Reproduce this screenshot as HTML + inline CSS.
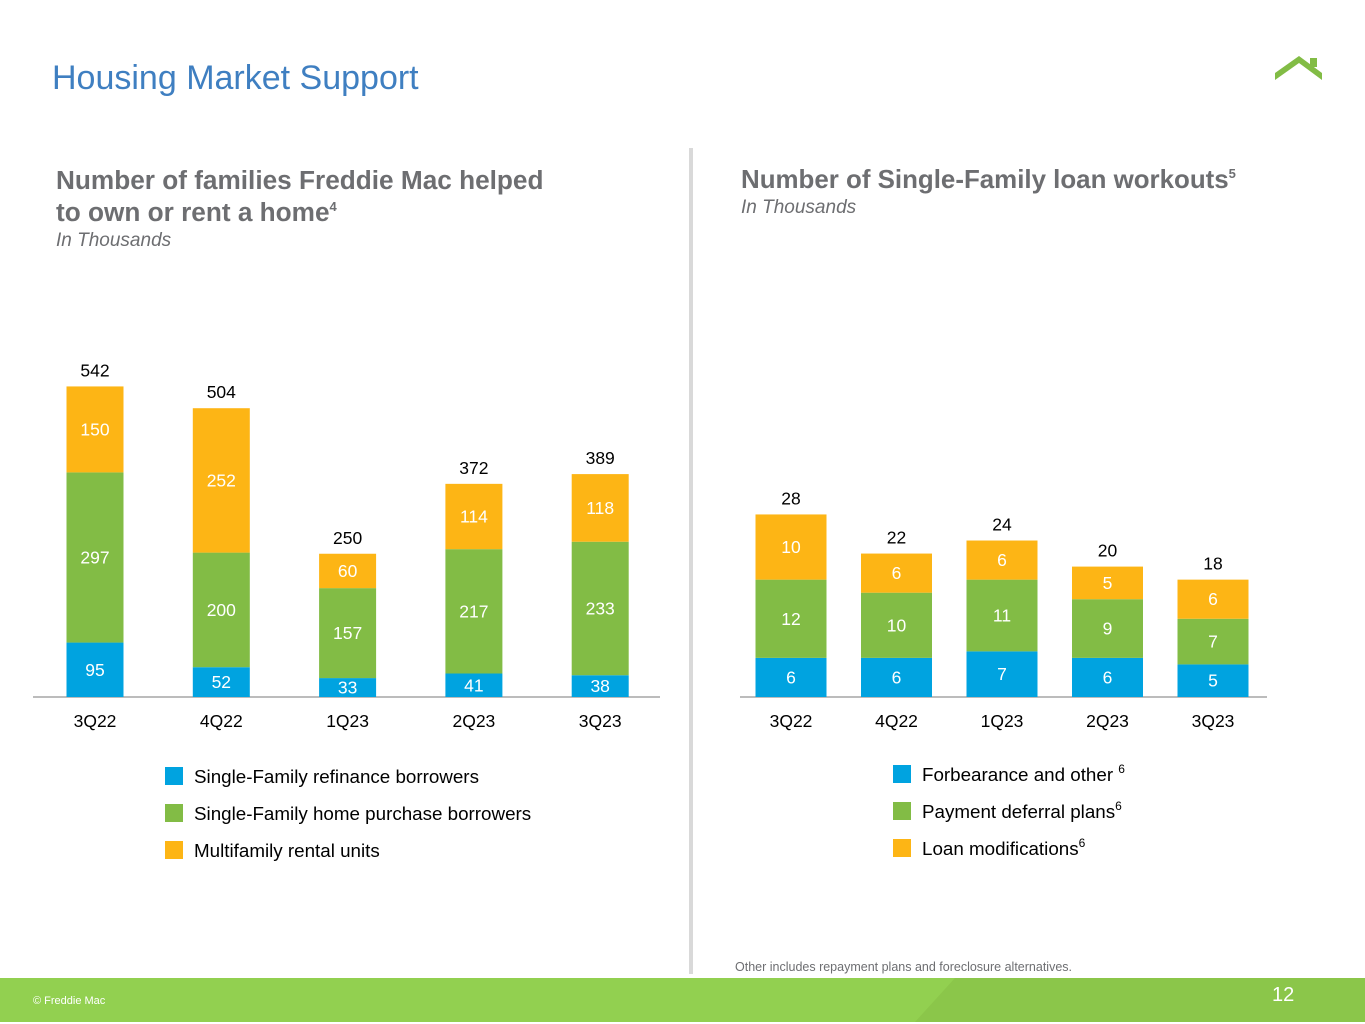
<!DOCTYPE html>
<html><head><meta charset="utf-8"><style>
body{margin:0;width:1365px;height:1024px;overflow:hidden;background:#fff;font-family:"Liberation Sans",Arial,sans-serif;position:relative}
.abs{position:absolute}
sup{line-height:0;vertical-align:0;position:relative;top:-10px}
</style></head><body>
<div class="abs" style="left:52px;top:59px;font-size:34px;color:#3f7fc1">Housing Market Support</div>
<svg class="abs" style="left:1272px;top:52px" width="56" height="32"><polygon points="3,28 27,11 50,28 50,21 27,4 3,21" fill="#82bc45"/><rect x="38" y="6" width="7" height="9" fill="#82bc45"/></svg>
<div class="abs" style="left:56px;top:164px;font-size:26.2px;font-weight:bold;color:#6d6e71;line-height:32px">Number of families Freddie Mac helped<br>to own or rent a home<sup style="font-size:13px">4</sup></div>
<div class="abs" style="left:56px;top:230px;font-size:19px;font-style:italic;color:#6d6e71">In Thousands</div>
<div class="abs" style="left:741px;top:164px;font-size:25.9px;font-weight:bold;color:#6d6e71;line-height:32px">Number of Single-Family loan workouts<sup style="font-size:13px">5</sup></div>
<div class="abs" style="left:741px;top:197px;font-size:19px;font-style:italic;color:#6d6e71">In Thousands</div>
<div class="abs" style="left:689px;top:148px;width:4px;height:826px;background:#d9d9d9"></div>
<div class="abs" style="left:735px;top:960px;font-size:12.5px;color:#6d6e71">Other includes repayment plans and foreclosure alternatives.</div>
<div class="abs" style="left:0;top:978px;width:1365px;height:44px;background:#92d050"></div>
<div class="abs" style="left:915px;top:978px;width:450px;height:44px;background:#8bc64a;clip-path:polygon(40px 0,100% 0,100% 100%,0 100%)"></div>
<div class="abs" style="left:33px;top:995px;font-size:11px;color:#fff">© Freddie Mac</div>
<div class="abs" style="left:1272px;top:984px;font-size:20px;color:#fff">12</div>
<svg id="c" class="abs" style="left:0;top:0" width="1365" height="1024"></svg>
<script>
const leftCats=["3Q22","4Q22","1Q23","2Q23","3Q23"];
const leftRefi=[95,52,33,41,38];
const leftPurch=[297,200,157,217,233];
const leftMF=[150,252,60,114,118];
const leftTotals=[542,504,250,372,389];
const rightCats=["3Q22","4Q22","1Q23","2Q23","3Q23"];
const rightForb=[6,6,7,6,5];
const rightDef=[12,10,11,9,7];
const rightMod=[10,6,6,5,6];
const rightTotals=[28,22,24,20,18];
const colors=["#00a3e0","#82bc45","#fdb515"];
const svg=document.getElementById('c');const NS="http://www.w3.org/2000/svg";
function mk(t,a,txt){const e=document.createElementNS(NS,t);for(const k in a)e.setAttribute(k,a[k]);if(txt!=null)e.textContent=txt;svg.appendChild(e);return e;}
function chart(pref,cats,series,totals,x0,step,bw,base,scale,ax0,ax1){
 const xs=i=>x0+i*step, ys=v=>base-v*scale;
 const l=mk('line',{x1:ax0,x2:ax1,y1:base,y2:base,stroke:'#a6a6a6','stroke-width':1.5});
 
 cats.forEach((c,i)=>{let cum=0;
  series.forEach((s,j)=>{const v=s[i];const r=mk('rect',{x:xs(i)-bw/2,y:ys(cum+v),width:bw,height:v*scale,fill:colors[j]});
   
   const t=mk('text',{x:xs(i),y:ys(cum+v/2)+6,'text-anchor':'middle','font-size':17.5,fill:'#fff'},v);
   cum+=v;});
  const tt=mk('text',{x:xs(i),y:ys(totals[i])-10,'text-anchor':'middle','font-size':17.5,fill:'#000'},totals[i]);
  
  const xl=mk('text',{x:xs(i),y:base+30,'text-anchor':'middle','font-size':17.5,fill:'#000'},c);
  
 });}
chart('left',leftCats,[leftRefi,leftPurch,leftMF],leftTotals,95,126.3,57,697,0.573,33,660);
chart('right',rightCats,[rightForb,rightDef,rightMod],rightTotals,791,105.5,71,697,6.52,740,1267);
function legend(pref,x,y0,gap,labels,sups){labels.forEach((lb,j)=>{const y=y0+j*gap;
 const r=mk('rect',{x:x,y:y-9,width:18,height:18,fill:colors[j]});
 const t=mk('text',{x:x+29,y:y+7,'font-size':18.8,fill:'#000'},lb);
 if(sups[j]){const s=document.createElementNS(NS,'tspan');s.setAttribute('font-size',12);s.setAttribute('dy',-8);s.textContent=sups[j];t.appendChild(s);}});}
legend('left',165,776,37,["Single-Family refinance borrowers","Single-Family home purchase borrowers","Multifamily rental units"],[null,null,null]);
legend('right',893,774,37,["Forbearance and other ","Payment deferral plans","Loan modifications"],["6","6","6"]);
</script>
</body></html>
